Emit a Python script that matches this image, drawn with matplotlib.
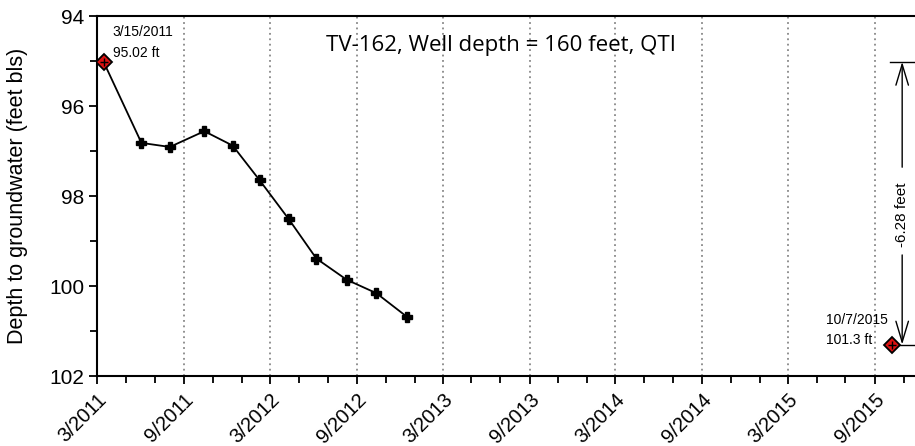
import matplotlib
matplotlib.use("Agg")
import matplotlib.pyplot as plt
import matplotlib.dates as mdates
from matplotlib.ticker import FuncFormatter, MultipleLocator
import datetime as dt

dates = ["2011-03-15", "2011-06-03", "2011-08-02", "2011-10-14", "2011-12-13",
         "2012-02-08", "2012-04-10", "2012-06-07", "2012-08-10", "2012-10-12",
         "2012-12-15"]
depths = [95.02, 96.82, 96.91, 96.56, 96.88, 97.65, 98.52, 99.39, 99.86, 100.16, 100.68]
end_date = "2015-10-07"
end_depth = 101.3
start_label = ["3/15/2011", "95.02 ft"]
end_label = ["10/7/2015", "101.3 ft"]
change_label = "-6.28 feet"
title = "TV-162, Well depth = 160 feet, QTI"
ylabel = "Depth to groundwater (feet bls)"

plt.rcParams['font.family'] = ['Liberation Sans', 'DejaVu Sans']

d = [dt.datetime.strptime(s, "%Y-%m-%d") for s in dates]
de = dt.datetime.strptime(end_date, "%Y-%m-%d")

fig = plt.figure(figsize=(9.15, 4.46), dpi=100)
ax = fig.add_axes([97/915, 70/446, 1 - 97/915 + 0.002, 360/446])

ax.plot(d, depths, color='black', lw=1.3, marker='P', ms=7, mfc='black', mec='black', zorder=3)
for xx, yy in [(d[0], depths[0]), (de, end_depth)]:
    ax.plot([xx], [yy], marker='D', ms=8, mfc='#dd1111', mec='black', mew=1.3, zorder=4)
    ax.plot([xx], [yy], marker='+', ms=6, color='black', mew=1.0, zorder=5)

ax.set_xlim(dt.datetime(2011, 3, 1), dt.datetime(2015, 11, 29))
ax.set_ylim(102, 94)

ax.xaxis.set_major_locator(mdates.MonthLocator(bymonth=[3, 9]))
ax.xaxis.set_minor_locator(mdates.MonthLocator(bymonth=[1, 5, 7, 11]))
ax.xaxis.set_major_formatter(FuncFormatter(lambda v, p: f"{mdates.num2date(v).month}/{mdates.num2date(v).year}"))
ax.yaxis.set_major_locator(MultipleLocator(2))
ax.yaxis.set_minor_locator(MultipleLocator(1))
ax.tick_params(axis='both', which='both', direction='out', width=1.3, color='black')
ax.tick_params(axis='both', which='major', length=6, labelsize=15)
ax.tick_params(axis='both', which='minor', length=5)
ax.tick_params(axis='y', which='major', pad=3)
ax.tick_params(axis='x', which='major', labelsize=14.5, pad=4)
for lab in ax.get_xticklabels():
    lab.set_rotation(45)
    lab.set_ha('right')
    lab.set_rotation_mode('anchor')

for t in mdates.MonthLocator(bymonth=[3, 9]).tick_values(dt.datetime(2011, 9, 1), dt.datetime(2015, 9, 1)):
    ax.axvline(t, color='#888888', ls=(0, (1.0, 2.0)), lw=1.3, zorder=1)

for s in ['left', 'bottom', 'top']:
    ax.spines[s].set_linewidth(1.5)
ax.spines['right'].set_visible(False)

ax.set_ylabel(ylabel, fontsize=15.5)
ax.yaxis.set_label_coords(-0.084, 0.5)
ax.text(0.493, 0.917, title, transform=ax.transAxes, ha='center', va='center',
        fontsize=16, family=['Open Sans', 'DejaVu Sans'])

ax.annotate(start_label[0], (d[0], depths[0]), xytext=(6.5, 21.6), textcoords='offset points',
            fontsize=10, va='center')
ax.annotate(start_label[1], (d[0], depths[0]), xytext=(6.5, 6.5), textcoords='offset points',
            fontsize=10, va='center')
ax.annotate(end_label[0], (de, end_depth), xytext=(-2.9, 18), textcoords='offset points',
            fontsize=10, va='center', ha='right')
ax.annotate(end_label[1], (de, end_depth), xytext=(-14.4, 3), textcoords='offset points',
            fontsize=10, va='center', ha='right')

# dimension lines
xl = dt.datetime(2015, 10, 4)
xr = dt.datetime(2015, 12, 15)
ax.plot([xl, xr], [depths[0], depths[0]], color='black', lw=1, clip_on=False)
ax.plot([de, xr], [end_depth, end_depth], color='black', lw=1, clip_on=False, zorder=2)
xa = dt.datetime(2015, 10, 29)
ax.annotate('', xy=(xa, depths[0]), xytext=(xa, 97.36),
            arrowprops=dict(arrowstyle='->,head_length=1.0,head_width=0.3', color='black', lw=1,
                            mutation_scale=15, shrinkA=0, shrinkB=0))
ax.annotate('', xy=(xa, end_depth), xytext=(xa, 99.31),
            arrowprops=dict(arrowstyle='->,head_length=1.0,head_width=0.3', color='black', lw=1,
                            mutation_scale=15, shrinkA=0, shrinkB=0))
ax.text(xa, 98.42, change_label, rotation=90, ha='center', va='center', fontsize=11)

fig.savefig("out.png", dpi=100)
